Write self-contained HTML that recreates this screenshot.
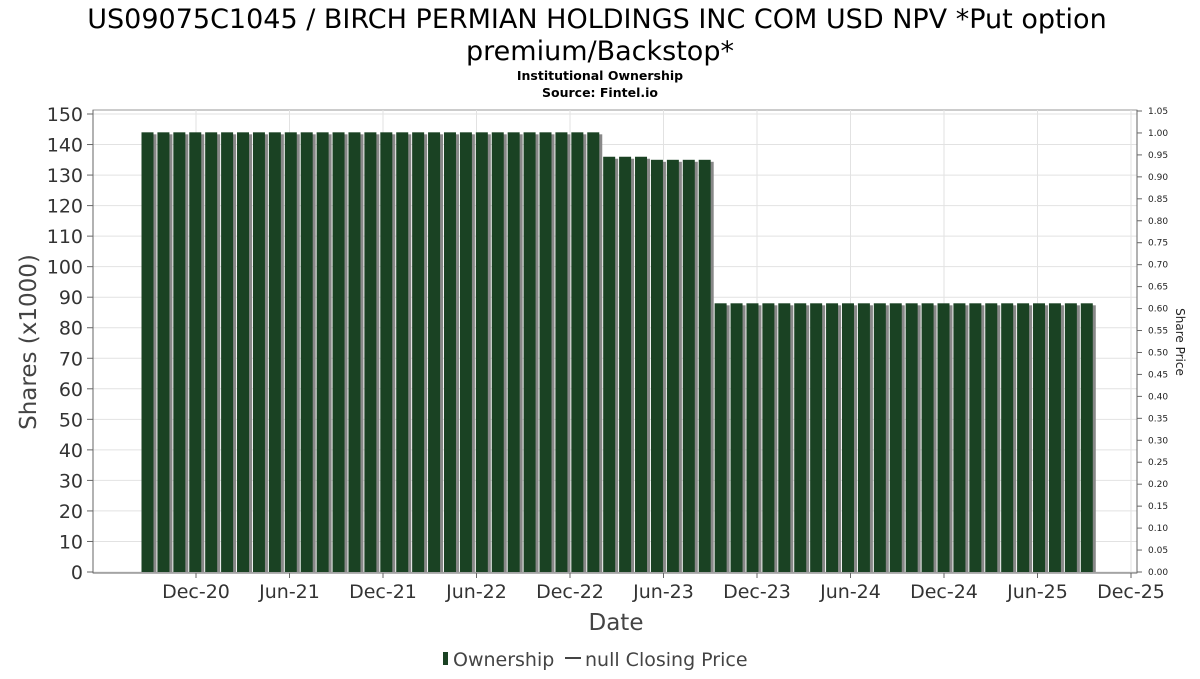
<!DOCTYPE html>
<html><head><meta charset="utf-8"><style>
body{margin:0;background:#fff;font-family:"DejaVu Sans","Liberation Sans",sans-serif}
svg text{font-family:"DejaVu Sans","Liberation Sans",sans-serif}
</style></head><body>
<svg id="c" width="1200" height="675" viewBox="0 0 1200 675" xmlns="http://www.w3.org/2000/svg">
<text x="597" y="28" font-size="27" text-anchor="middle">US09075C1045 / BIRCH PERMIAN HOLDINGS INC COM USD NPV *Put option</text>
<text x="600" y="60" font-size="27" text-anchor="middle">premium/Backstop*</text>
<text x="600" y="80" font-size="12.5" font-weight="bold" text-anchor="middle">Institutional Ownership</text>
<text x="600" y="97" font-size="12.5" font-weight="bold" text-anchor="middle">Source: Fintel.io</text>
<g id="grid"></g><g id="bars"></g><g id="axes"></g>
<text x="36" y="342" font-size="23" fill="#444" text-anchor="middle" transform="rotate(-90 36 342)">Shares (x1000)</text>
<text x="1176" y="342" font-size="12" fill="#222" text-anchor="middle" transform="rotate(90 1176 342)">Share Price</text>
<text x="616" y="630" font-size="23" fill="#444" text-anchor="middle">Date</text>
<g>
<rect x="443" y="652" width="5" height="13" fill="#1a4223"/>
<text x="453" y="666" font-size="19" fill="#444">Ownership</text>
<line x1="565" y1="658" x2="581" y2="658" stroke="#444" stroke-width="2"/>
<text x="585" y="666" font-size="19" fill="#444">null Closing Price</text>
</g>
</svg>
<script>
const ownershipValues=[144,144,144,144,144,144,144,144,144,144,144,144,144,144,144,144,144,144,144,144,144,144,144,144,144,144,144,144,144,136,136,136,135,135,135,135,88,88,88,88,88,88,88,88,88,88,88,88,88,88,88,88,88,88,88,88,88,88,88,88];
const leftTicks=[0,10,20,30,40,50,60,70,80,90,100,110,120,130,140,150];
const rightTicks=["0.00","0.05","0.10","0.15","0.20","0.25","0.30","0.35","0.40","0.45","0.50","0.55","0.60","0.65","0.70","0.75","0.80","0.85","0.90","0.95","1.00","1.05"];
const dateTicks=["Dec-20","Jun-21","Dec-21","Jun-22","Dec-22","Jun-23","Dec-23","Jun-24","Dec-24","Jun-25","Dec-25"];
const NS="http://www.w3.org/2000/svg";
const L=93,R=1137,T=110,B=573;
const y=v=>572-v*(572-114)/150;
const yr=v=>572-v*(572-114)/1.05*1.05/1.05*(1.05/1.05)*(461/458)/1;
const xb=i=>141.5+i*15.92;
const xt=i=>196+i*93.5;
function mk(t,a,p){const e=document.createElementNS(NS,t);for(const k in a)e.setAttribute(k,a[k]);p.appendChild(e);return e;}
const g=document.getElementById('grid'),ba=document.getElementById('bars'),ax=document.getElementById('axes');
mk('rect',{x:L,y:T,width:R-L,height:B-T,fill:'#fff',stroke:'#999'},g);
leftTicks.forEach(v=>{const l=mk('line',{x1:L,x2:R,y1:y(v),y2:y(v),stroke:'#e2e2e2'},g);


const t=mk('text',{x:83,y:y(v)+7,'font-size':19,fill:'#333','text-anchor':'end'},ax);t.textContent=v;


mk('line',{x1:87,x2:93,y1:y(v),y2:y(v),stroke:'#666'},ax);});
dateTicks.forEach((d,i)=>{const l=mk('line',{x1:xt(i),x2:xt(i),y1:T,y2:B,stroke:'#e2e2e2'},g);


mk('line',{x1:xt(i),x2:xt(i),y1:B,y2:B+5,stroke:'#666'},ax);
const t=mk('text',{x:xt(i),y:598,'font-size':19,fill:'#333','text-anchor':'middle'},ax);t.textContent=d;

});
rightTicks.forEach((s,i)=>{const yy=572-i*(572-111)/21;
mk('line',{x1:1137,x2:1142,y1:yy,y2:yy,stroke:'#666'},ax);
const t=mk('text',{x:1148,y:yy+3,'font-size':9,fill:'#222'},ax);t.textContent=s;

});
ownershipValues.forEach((v,i)=>{const x=xb(i);
mk('rect',{x:x+3,y:y(v)+2,width:12,height:572-y(v)-2,fill:'#888'},ba);
const r=mk('rect',{x:x,y:y(v),width:12,height:572-y(v),fill:'#1a4223'},ba);

});
mk('line',{x1:L,x2:R,y1:B,y2:B,stroke:'#666'},ax);
mk('line',{x1:L,x2:L,y1:T,y2:B,stroke:'#666'},ax);
mk('line',{x1:R,x2:R,y1:T,y2:B,stroke:'#666'},ax);
</script>
</body></html>
